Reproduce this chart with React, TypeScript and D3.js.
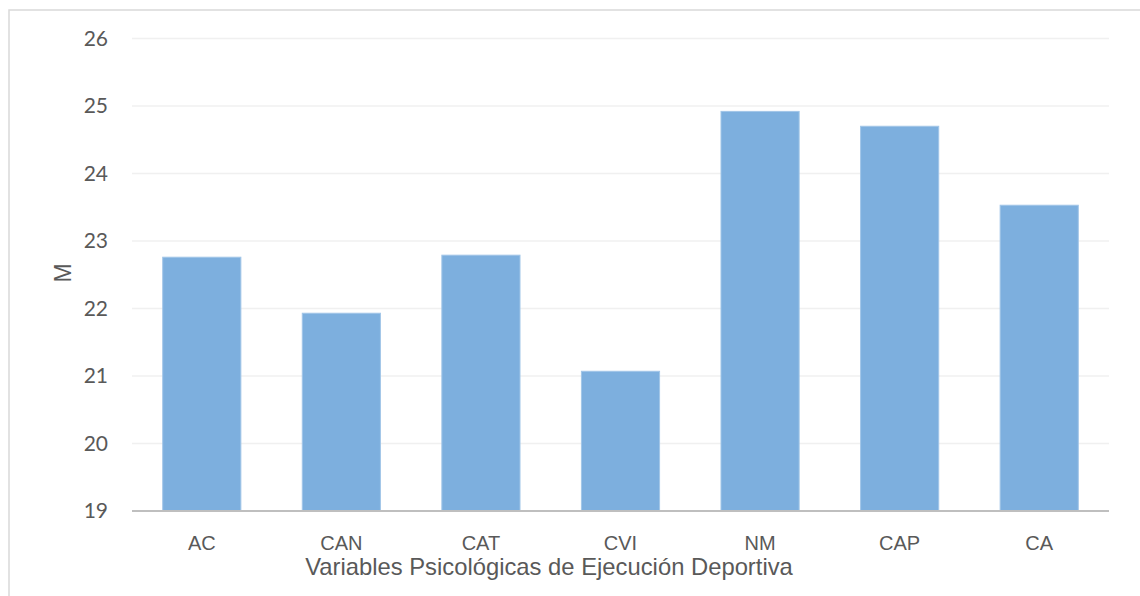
import React from "react";
import * as d3 from "d3";

const categories = ["AC", "CAN", "CAT", "CVI", "NM", "CAP", "CA"];
const values = [22.76, 21.93, 22.79, 21.07, 24.92, 24.7, 23.53];
const yTicks = [19, 20, 21, 22, 23, 24, 25, 26];
const xTitle = "Variables Psicológicas de Ejecución Deportiva";
const yTitle = "M";

export default function App() {
  const W = 1140, H = 596;
  const left = 132, right = 1109, top = 38.5, bottom = 511;
  const x = d3.scaleBand<string>().domain(categories).range([left, right]).paddingInner(0.44).paddingOuter(0.22);
  const y = d3.scaleLinear().domain([19, 26]).range([bottom, top]);
  return (
    <svg width={W} height={H} style={{ position: "absolute", left: 0, top: 0 }}>
      <rect x={0} y={0} width={W} height={H} fill="#fff" />
      <rect x={9} y={10} width={W + 20} height={H + 20} fill="none" stroke="#d9d9d9" strokeWidth={1.5} />
      {yTicks.slice(1).map((t) => (
        <line key={t} x1={left} x2={right} y1={y(t)} y2={y(t)} stroke="#f0f0f0" strokeWidth={1.5} />
      ))}
      {categories.map((c, i) => (
        <rect key={c} x={x(c)} y={y(values[i])} width={x.bandwidth()} height={bottom - y(values[i])}
          fill="#7dafde" stroke="#a2c6e8" strokeWidth={1} />
      ))}
      <line x1={left} x2={right} y1={bottom} y2={bottom} stroke="#bfbfbf" strokeWidth={2} />
      {yTicks.map((t) => (
        <text key={t} x={108} y={y(t)} dy="0.35em" textAnchor="end" fill="#595959"
          fontFamily="Lato, 'Open Sans', sans-serif" fontSize={21}>{t}</text>
      ))}
      {categories.map((c) => (
        <text key={c} x={(x(c) as number) + x.bandwidth() / 2} y={550} textAnchor="middle" fill="#595959"
          fontFamily="'Liberation Sans', Arial, sans-serif" fontSize={20}>{c}</text>
      ))}
      <text x={549} y={575} textAnchor="middle" fill="#595959"
        fontFamily="'Liberation Sans', Arial, sans-serif" fontSize={23.8}>{xTitle}</text>
      <text transform={`translate(71,273) rotate(-90)`} textAnchor="middle" fill="#595959"
        fontFamily="'Liberation Sans', Arial, sans-serif" fontSize={23}>{yTitle}</text>
    </svg>
  );
}
